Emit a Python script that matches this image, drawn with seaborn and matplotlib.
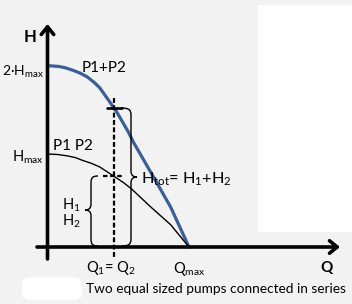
import matplotlib
matplotlib.use("Agg")
import matplotlib.pyplot as plt
import seaborn as sns
import pandas as pd
from matplotlib.path import Path
from matplotlib.patches import PathPatch, Rectangle, FancyBboxPatch, FancyArrowPatch

# ---- data (Q relative to Qmax, H relative to Hmax) ----
q_single = [0.0, 0.07, 0.14, 0.20, 0.25, 0.31, 0.37, 0.42, 0.47, 0.53, 0.59, 0.73, 0.87, 1.0]
h_single = [1.0, 0.995, 0.98, 0.96, 0.93, 0.90, 0.86, 0.81, 0.76, 0.70, 0.63, 0.43, 0.24, 0.0]
q_series = [0.0, 0.05, 0.085, 0.13, 0.18, 0.23, 0.28, 0.33, 0.37, 0.44, 0.49, 0.57, 0.61, 0.75, 0.87, 1.0]
h_series = [1.95, 1.945, 1.94, 1.925, 1.90, 1.87, 1.83, 1.77, 1.71, 1.56, 1.45, 1.24, 1.12, 0.75, 0.43, 0.0]
q_op = 0.47      # Q1 = Q2
h_op1 = 0.76     # H1 = H2
h_optot = 1.49   # Htot

sns.set_style("white")
plt.rcParams['font.family'] = ['Lato', 'DejaVu Sans']
plt.rcParams['mathtext.fontset'] = 'custom'
plt.rcParams['mathtext.rm'] = 'Lato'
plt.rcParams['mathtext.it'] = 'Lato:italic'

W, H = 352, 304
fig = plt.figure(figsize=(W / 100, H / 100), dpi=100, facecolor="#f2f2f2")

# data axes: q=0 at px 47.5, q=1 at px 189; h=0 at py 247, 93 px per Hmax
x0, sx = 47.5, 141.5
y0, sy = 247, 93
ax = fig.add_axes([0, 0, 1, 1], facecolor="none")
ax.set_xlim(-x0 / sx, (W - x0) / sx)
ax.set_ylim(-(H - y0) / sy, y0 / sy)
ax.axis("off")

df1 = pd.DataFrame({"Q": q_single, "H": h_single})
df2 = pd.DataFrame({"Q": q_series, "H": h_series})
sns.lineplot(data=df2, x="Q", y="H", ax=ax, color="#3b5e97", lw=2.3, sort=False, zorder=3)
sns.lineplot(data=df1, x="Q", y="H", ax=ax, color="black", lw=1.0, sort=False, zorder=3)

# dashed operating point line
ax.plot([q_op, q_op], [h_optot + 0.11, -0.12], color="black", lw=1.6, ls=(0, (2.2, 1.1)), zorder=4)
ax.plot([q_op - 0.05, q_op + 0.055], [h_optot, h_optot], color="black", lw=1.9, zorder=4)
ax.plot([q_op - 0.08, q_op + 0.065], [h_op1, h_op1], color="black", lw=1.6, ls=(0, (2.0, 1.2)), zorder=4)

# overlay in pixel coordinates
ov = fig.add_axes([0, 0, 1, 1], facecolor="none")
ov.set_xlim(0, W)
ov.set_ylim(H, 0)
ov.axis("off")

ov.add_patch(Rectangle((258, 5), 100, 227, facecolor="white", edgecolor="none", zorder=0))
ov.add_patch(FancyBboxPatch((26, 281), 52, 15, boxstyle="round,pad=4,rounding_size=8",
                            facecolor="white", edgecolor="none", zorder=0))

# axes arrows
ov.add_patch(FancyArrowPatch((37, 247), (340, 247), arrowstyle="->,head_length=0.55,head_width=0.45",
                             mutation_scale=10, lw=2.6, color="black", shrinkA=0, shrinkB=0, zorder=5))
ov.add_patch(FancyArrowPatch((47.5, 259), (47.5, 24), arrowstyle="->,head_length=0.55,head_width=0.45",
                             mutation_scale=10, lw=2.6, color="black", shrinkA=0, shrinkB=0, zorder=5))


def brace(xa, xs, xt, ytop, ymid, ybot, r=7, rt=6):
    d = xs - xa
    e = xt - xs
    verts = [(xa, ytop), (xa + 0.75 * d, ytop), (xs, ytop + 1.5), (xs, ytop + r),
             (xs, ymid - rt), (xs, ymid - 1.5), (xs + 0.4 * e, ymid), (xt, ymid),
             (xs + 0.4 * e, ymid), (xs, ymid + 1.5), (xs, ymid + rt),
             (xs, ybot - r), (xs, ybot - 1.5), (xa + 0.75 * d, ybot), (xa, ybot)]
    codes = [Path.MOVETO, Path.CURVE4, Path.CURVE4, Path.CURVE4,
             Path.LINETO, Path.CURVE4, Path.CURVE4, Path.CURVE4,
             Path.CURVE4, Path.CURVE4, Path.CURVE4,
             Path.LINETO, Path.CURVE4, Path.CURVE4, Path.CURVE4]
    ov.add_patch(PathPatch(Path(verts, codes), facecolor="none", edgecolor="black", lw=1.0, zorder=4))


brace(121, 131, 137, 108, 177, 246)
brace(98, 91, 85, 176, 210, 246)

txt = dict(color="black", zorder=6)
ov.text(30, 37, "H", fontsize=12, fontweight="bold", ha="center", va="center", **txt)
ov.text(327, 268, "Q", fontsize=11, fontweight="bold", ha="center", va="center", **txt)
ov.text(44, 72, r"2·H$_{\mathrm{max}}$", fontsize=10, ha="right", va="center", **txt)
ov.text(44, 157, r"H$_{\mathrm{max}}$", fontsize=10.5, ha="right", va="center", **txt)
ov.text(82, 68, "P1+P2", fontsize=11, ha="left", va="center", **txt)
ov.text(53, 146, "P1 P2", fontsize=11, ha="left", va="center", **txt)
ov.text(62, 205, r"H$_1$", fontsize=10.5, ha="left", va="center", **txt)
ov.text(62, 221, r"H$_2$", fontsize=10.5, ha="left", va="center", **txt)
ov.text(141, 179, r"H$_{\mathrm{tot}}$= H$_1$+H$_2$", fontsize=11.7, ha="left", va="center", **txt)
ov.text(111, 268, r"Q$_1$= Q$_2$", fontsize=10.5, ha="center", va="center", **txt)
ov.text(189, 269, r"Q$_{\mathrm{max}}$", fontsize=10.5, ha="center", va="center", **txt)
ov.text(86, 289, "Two equal sized pumps connected in series", fontsize=9.85, ha="left", va="center", **txt)

fig.savefig("out.png", dpi=100, facecolor=fig.get_facecolor())
